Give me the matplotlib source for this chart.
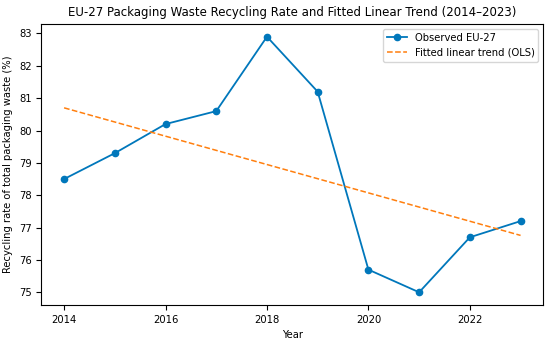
import numpy as np
import matplotlib
matplotlib.use("Agg")
import matplotlib.pyplot as plt

years = [2014, 2015, 2016, 2017, 2018, 2019, 2020, 2021, 2022, 2023]
rate = [78.5, 79.3, 80.2, 80.6, 82.9, 81.2, 75.7, 75.0, 76.7, 77.2]

# OLS fit
slope, intercept = np.polyfit(years, rate, 1)
trend = slope * np.array(years) + intercept

fig, ax = plt.subplots(figsize=(5.5, 3.42), dpi=100)
ax.plot(years, rate, marker='o', color='#0077bb', markersize=4.5,
        linewidth=1.3, label='Observed EU-27')
ax.plot(years, trend, linestyle='--', color='#ff7f0e', linewidth=1.1,
        label='Fitted linear trend (OLS)')

ax.set_title('EU-27 Packaging Waste Recycling Rate and Fitted Linear Trend (2014\u20132023)',
             fontsize=8.5)
ax.set_xlabel('Year', fontsize=7.2)
ax.set_ylabel('Recycling rate of total packaging waste (%)', fontsize=7.2)
ax.tick_params(labelsize=7.2)
ax.set_xticks([2014, 2016, 2018, 2020, 2022])
ax.legend(loc='upper right', fontsize=7.2)

plt.subplots_adjust(left=0.075, right=0.988, top=0.93, bottom=0.108)
plt.savefig('out.png', dpi=100)
